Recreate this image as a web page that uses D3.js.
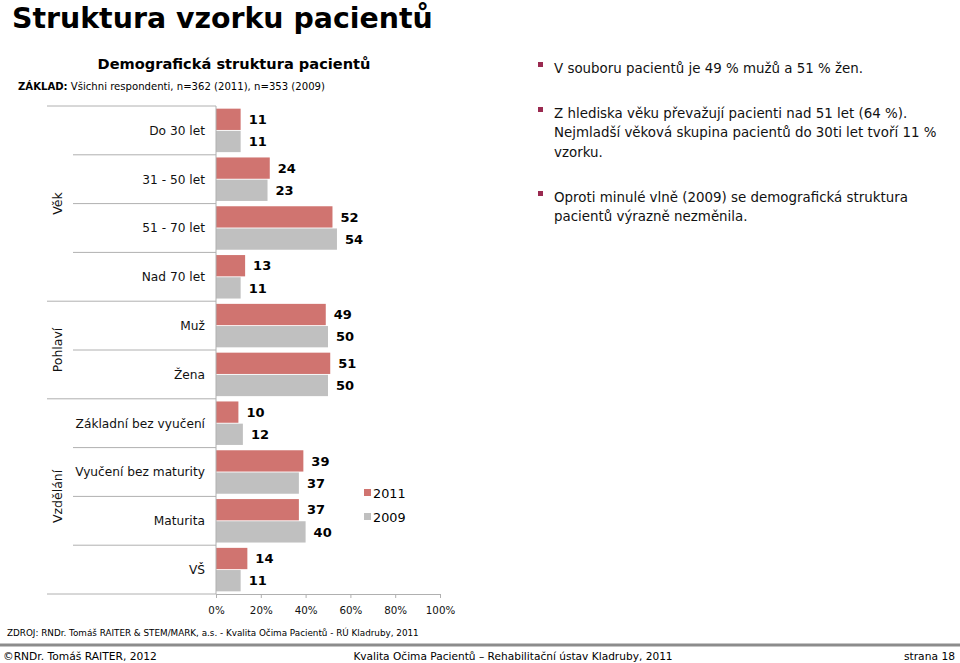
<!DOCTYPE html>
<html><head><meta charset="utf-8">
<script src="https://cdn.jsdelivr.net/npm/d3@7/dist/d3.min.js"></script>
<style>body{margin:0;background:#fff;}svg{display:block;font-family:"DejaVu Sans",Verdana,sans-serif;}</style>
</head><body><svg id="c" width="960" height="663"></svg>
<script>
const categories = ["Do 30 let","31 - 50 let","51 - 70 let","Nad 70 let","Muž","Žena","Základní bez vyučení","Vyučení bez maturity","Maturita","VŠ"];
const groups = [{name:"Věk", start:0, count:4},{name:"Pohlaví", start:4, count:2},{name:"Vzdělání", start:6, count:4}];
const series2011 = [11,24,52,13,49,51,10,39,37,14];
const series2009 = [11,23,54,11,50,50,12,37,40,11];
const seriesNames = ["2011","2009"];
const ticks = [0,20,40,60,80,100];
const bullets = [
  ["V souboru pacientů je 49 % mužů a 51 % žen."],
  ["Z hlediska věku převažují pacienti nad 51 let (64 %).","Nejmladší věková skupina pacientů do 30ti let tvoří 11 %","vzorku."],
  ["Oproti minulé vlně (2009) se demografická struktura","pacientů výrazně nezměnila."]
];
const colors = ["#d07470","#c0c0c0"];

const svg = d3.select("#c");
svg.append("text").attr("x",12).attr("y",28).attr("font-size",28.4).attr("font-weight","bold").attr("fill","#000").text("Struktura vzorku pacientů");
svg.append("text").attr("x",234).attr("y",69).attr("text-anchor","middle").attr("font-size",14.6).attr("font-weight","bold").text("Demografická struktura pacientů");
const z = svg.append("text").attr("x",18).attr("y",90).attr("font-size",10.1);
z.append("tspan").attr("font-weight","bold").text("ZÁKLAD:");
z.append("tspan").text(" Všichni respondenti, n=362 (2011), n=353 (2009)");

const x = d3.scaleLinear().domain([0,100]).range([216,440]);
const y = d3.scaleBand().domain(categories).range([106,594]);
const yi = d3.scaleBand().domain(seriesNames).range([0,y.bandwidth()]).paddingOuter(0.12).paddingInner(0.04);

const data = categories.map((c,i)=>({c, vals:[series2011[i],series2009[i]]}));
const g = svg.append("g");
data.forEach(d=>{
  d.vals.forEach((v,j)=>{
    const yy = y(d.c)+yi(seriesNames[j]);
    g.append("rect").attr("x",x(0)).attr("y",yy).attr("width",x(v)-x(0)).attr("height",yi.bandwidth()).attr("fill",colors[j]);
    g.append("text").attr("x",x(v)+8).attr("y",yy+yi.bandwidth()/2).attr("dy","0.36em").attr("font-size",13).attr("font-weight","bold").text(v);
  });
  g.append("text").attr("x",205).attr("y",y(d.c)+y.bandwidth()/2).attr("dy","0.36em").attr("text-anchor","end").attr("font-size",12.2).attr("fill","#111").text(d.c);
});
// separators
categories.forEach((c,i)=>{
  if(i===0) return;
  const isGroup = groups.some(gr=>gr.start===i);
  g.append("line").attr("x1",isGroup?47:73).attr("x2",216).attr("y1",y(c)).attr("y2",y(c)).attr("stroke","#b0b0b0");
});
g.append("line").attr("x1",47).attr("x2",216).attr("y1",106).attr("y2",106).attr("stroke","#b0b0b0");
g.append("line").attr("x1",216).attr("x2",216).attr("y1",106).attr("y2",594).attr("stroke","#b0b0b0");
// x axis
const ax = svg.append("g").attr("transform","translate(0,594)").call(d3.axisBottom(x).tickValues(ticks).tickFormat(d=>d+"%").tickSize(4).tickSizeOuter(0));
ax.select(".domain").attr("stroke","#b0b0b0");
ax.selectAll(".tick line").attr("stroke","#b0b0b0");
ax.selectAll("text").attr("font-size",10.3).attr("font-family","DejaVu Sans, Verdana, sans-serif").attr("dy","1.3em").attr("fill","#111");
g.append("line").attr("x1",47).attr("x2",216).attr("y1",594).attr("y2",594).attr("stroke","#b0b0b0");
// group labels
groups.forEach(gr=>{
  const y0 = y(categories[gr.start]), y1 = y(categories[gr.start+gr.count-1])+y.bandwidth();
  const cy = (y0+y1)/2;
  svg.append("text").attr("transform",`translate(62,${cy}) rotate(-90)`).attr("text-anchor","middle").attr("font-size",12.5).attr("fill","#111").text(gr.name);
});
// legend
seriesNames.forEach((s,j)=>{
  const ly = 493 + j*24;
  svg.append("rect").attr("x",364).attr("y",ly-4).attr("width",7).attr("height",7).attr("fill",colors[j]);
  svg.append("text").attr("x",373).attr("y",ly).attr("dy","0.36em").attr("font-size",12.8).text(s);
});
// bullets
const by = [68,113,197];
bullets.forEach((lines,k)=>{
  svg.append("rect").attr("x",538).attr("y",by[k]-6).attr("width",5).attr("height",5).attr("fill","#9a2a50");
  lines.forEach((t,l)=>{
    svg.append("text").attr("x",554).attr("y",by[k]+l*19.5).attr("dy","0.36em").attr("font-size",13.4).attr("fill","#111").text(t);
  });
});
// footer
svg.append("text").attr("x",7).attr("y",633).attr("dy","0.36em").attr("font-size",8.8).text("ZDROJ: RNDr. Tomáš RAITER & STEM/MARK, a.s. -  Kvalita Očima Pacientů - RÚ Kladruby, 2011");
svg.append("line").attr("x1",0).attr("x2",960).attr("y1",645).attr("y2",645).attr("stroke","#8c8c8c").attr("stroke-width",3);
svg.append("text").attr("x",3).attr("y",656).attr("dy","0.36em").attr("font-size",10.7).text("©RNDr. Tomáš RAITER, 2012");
svg.append("text").attr("x",513).attr("y",656).attr("dy","0.36em").attr("text-anchor","middle").attr("font-size",10.6).text("Kvalita Očima Pacientů – Rehabilitační ústav Kladruby, 2011");
svg.append("text").attr("x",955).attr("y",656).attr("dy","0.36em").attr("text-anchor","end").attr("font-size",10.7).text("strana 18");
</script></body></html>
